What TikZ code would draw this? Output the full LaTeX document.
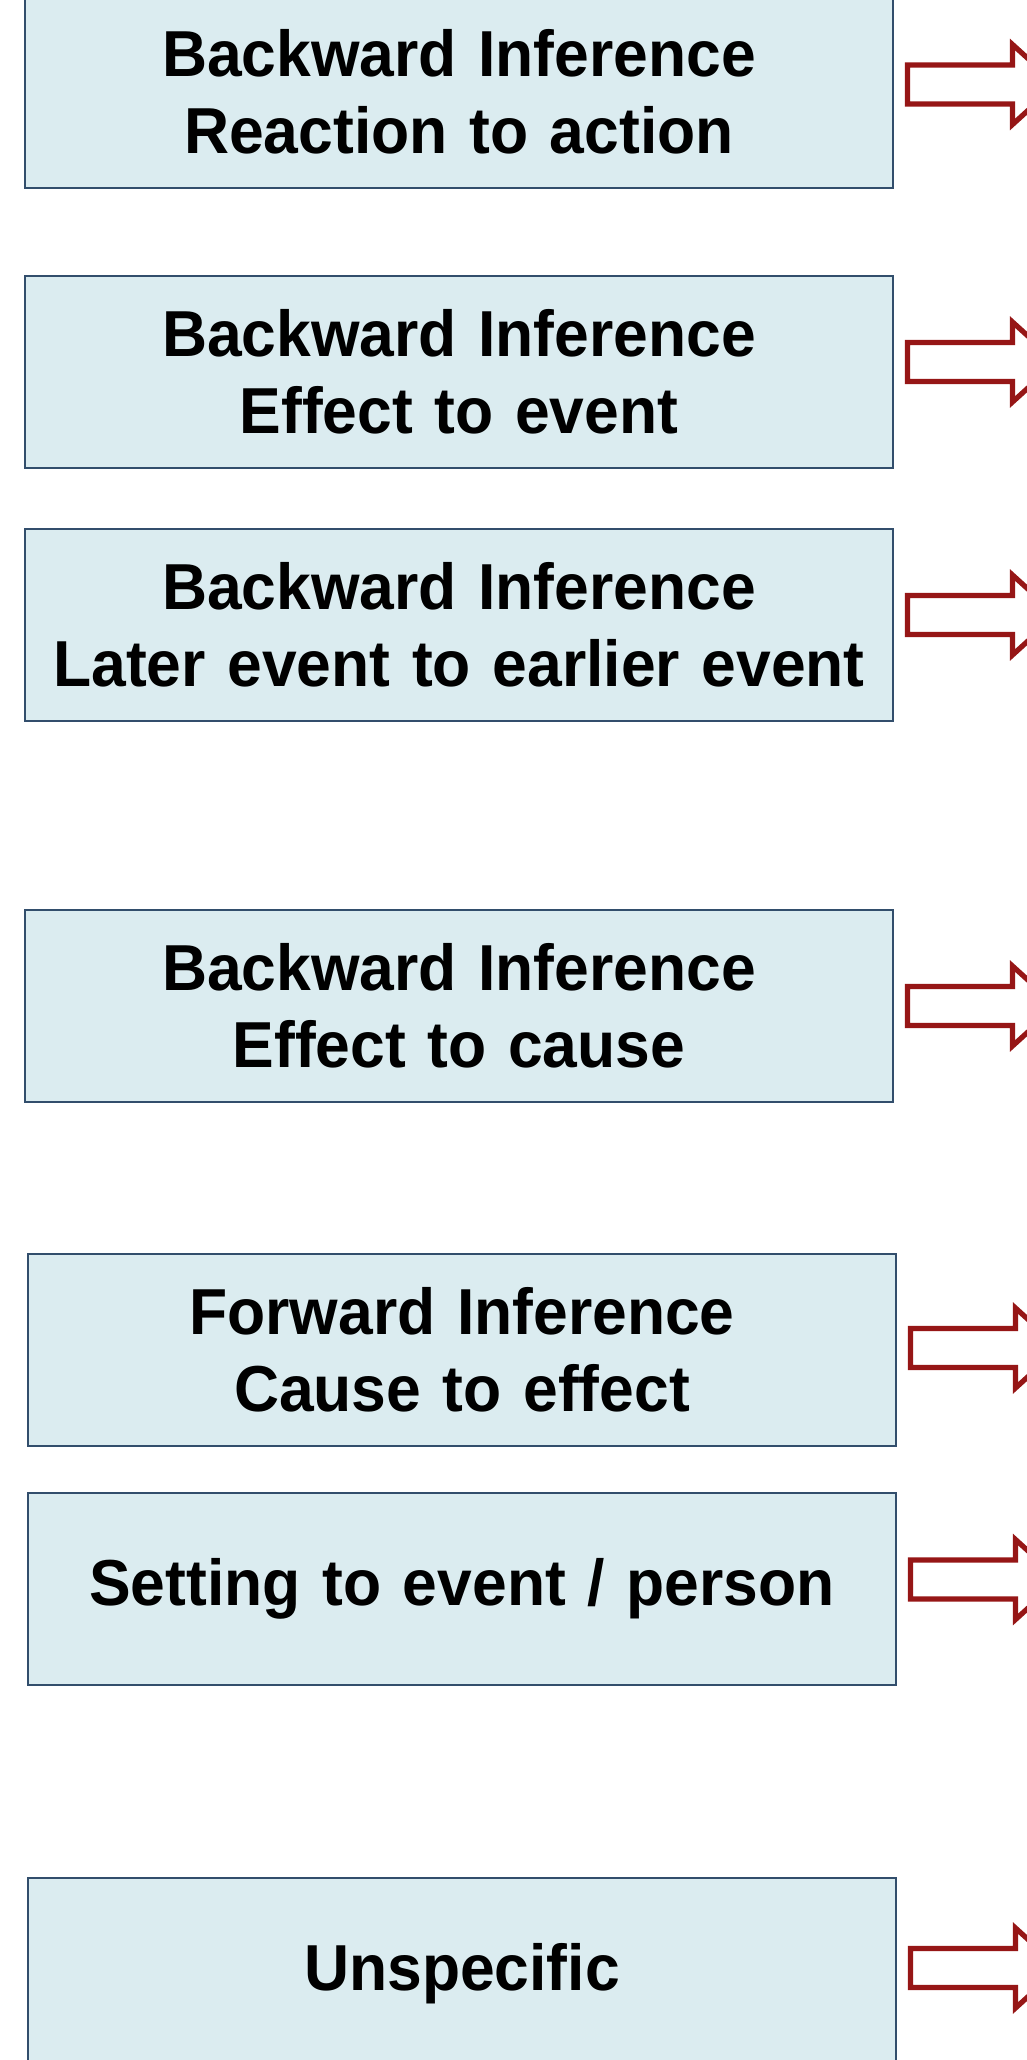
\documentclass[tikz,border=0pt]{standalone}
\usepackage{fontspec}
\setmainfont{Liberation Sans}[FakeStretch=0.96]
\usepackage{tikz}
\usetikzlibrary{positioning,calc}
\definecolor{boxfill}{RGB}{219,236,240}
\definecolor{boxline}{RGB}{50,78,108}
\definecolor{arrowred}{RGB}{150,22,22}

\begin{document}
\begin{tikzpicture}[
  node distance=44pt,
  catbox/.style={draw=boxline, line width=1.4pt, fill=boxfill, inner sep=0pt, outer sep=0pt, text width=434pt, minimum height=96pt, align=center, font=\fontsize{32.5}{38.5}\selectfont\bfseries},
  blockarrow/.style={draw=arrowred, line width=2.6pt, fill=white, line join=miter}
]
\useasboundingbox (0,0) rectangle (513.5pt,-1030pt);
\clip (0,0) rectangle (513.5pt,-1030pt);

% Backward inferences
\node[catbox, anchor=north west] (react) at (12.5pt,2pt) {Backward Inference\\Reaction to action};
\node[catbox, below=of react] (effev) {Backward Inference\\Effect to event};
\node[catbox, below=30.5pt of effev] (later) {Backward Inference\\Later event to earlier event};
\node[catbox, below=94.5pt of later] (cause) {Backward Inference\\Effect to cause};

% Forward and the rest
\node[catbox, below=76pt of cause, xshift=1.5pt] (fwd) {Forward Inference\\Cause to effect};
\node[catbox, below=23.5pt of fwd] (setting) {Setting to event / person};
\node[catbox, below=96.5pt of setting] (unspec) {Unspecific};

% Block arrows
\foreach \b/\dy in {react/3.75,effev/5,later/5,cause/0,fwd/1,setting/4.75,unspec/3}{
  \draw[blockarrow] ($(\b.east)+(7.25pt,\dy pt+9.75pt)$) -- ++(52.5pt,0) -- ++(0,10.25pt) -- ++(22pt,-20pt) -- ++(-22pt,-20pt) -- ++(0,10.25pt) -- ++(-52.5pt,0) -- cycle;
}

\end{tikzpicture}
\end{document}
